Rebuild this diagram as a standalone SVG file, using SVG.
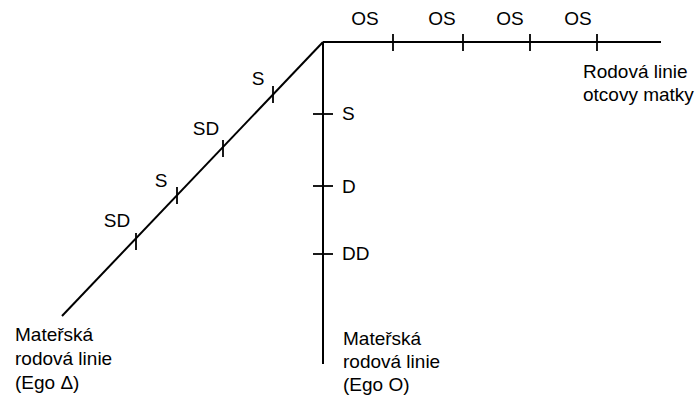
<svg xmlns="http://www.w3.org/2000/svg" width="698" height="397" viewBox="0 0 698 397">
<style>
.ln{stroke:#000;stroke-width:2;fill:none;stroke-linecap:butt}
.tk{stroke:#000;stroke-width:1.8;fill:none}
text{font-family:"Liberation Sans",Arial,sans-serif;font-size:19px;fill:#000}
.c{text-anchor:middle}
</style>
<rect width="698" height="397" fill="#fff"/>
<g id="connectors">
<line class="ln" x1="323" y1="42" x2="661" y2="42"/>
<line class="ln" x1="323" y1="42" x2="323" y2="364"/>
<line class="ln" x1="323" y1="42" x2="62" y2="316"/>
</g>
<g id="ticks-top">
<line class="tk" x1="393" y1="34" x2="393" y2="51"/>
<line class="tk" x1="463" y1="34" x2="463" y2="51"/>
<line class="tk" x1="530" y1="34" x2="530" y2="51"/>
<line class="tk" x1="597" y1="34" x2="597" y2="51"/>
</g>
<g id="ticks-vertical">
<line class="tk" x1="313" y1="114" x2="333" y2="114"/>
<line class="tk" x1="313" y1="186" x2="333" y2="186"/>
<line class="tk" x1="313" y1="254" x2="333" y2="254"/>
</g>
<g id="ticks-diagonal">
<line class="tk" x1="273" y1="86" x2="273" y2="103"/>
<line class="tk" x1="223" y1="140" x2="223" y2="157"/>
<line class="tk" x1="177" y1="187" x2="177" y2="204"/>
<line class="tk" x1="136" y1="233" x2="136" y2="250"/>
</g>
<g id="labels-top">
<text class="c" x="365" y="25">OS</text>
<text class="c" x="442" y="25">OS</text>
<text class="c" x="510" y="25">OS</text>
<text class="c" x="578" y="25">OS</text>
</g>
<g id="node-otcovy">
<text x="583" y="78">Rodová linie</text>
<text x="583" y="101">otcovy matky</text>
</g>
<g id="labels-vertical">
<text x="342" y="120">S</text>
<text x="342" y="193">D</text>
<text x="342" y="260">DD</text>
</g>
<g id="labels-diagonal">
<text class="c" x="258" y="85">S</text>
<text class="c" x="206" y="135">SD</text>
<text class="c" x="161" y="187">S</text>
<text class="c" x="117" y="227">SD</text>
</g>
<g id="node-ego-delta">
<text x="15" y="341">Mateřská</text>
<text x="15" y="365">rodová linie</text>
<text x="15" y="389">(Ego Δ)</text>
</g>
<g id="node-ego-o">
<text x="343" y="345">Mateřská</text>
<text x="343" y="368">rodová linie</text>
<text x="343" y="391">(Ego O)</text>
</g>
</svg>
